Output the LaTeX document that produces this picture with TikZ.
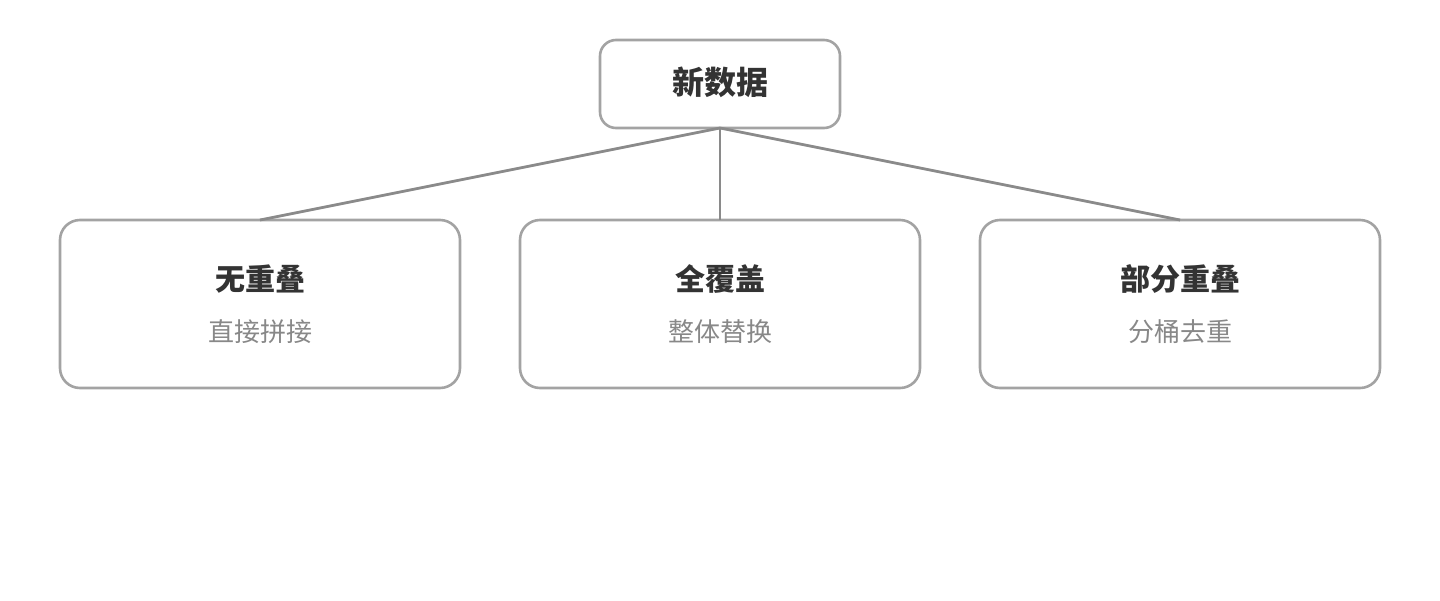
\documentclass[tikz,border=0pt]{standalone}
\usepackage{fontspec}
\newfontfamily\cjk{Noto Sans CJK SC}
\definecolor{boxc}{HTML}{A3A3A3}
\definecolor{linec}{HTML}{8A8A8A}
\definecolor{titc}{HTML}{333333}
\definecolor{subc}{HTML}{888888}
\tikzset{
  px/.style={x=1pt,y=-1pt},
  rootbox/.style={draw=boxc, line width=2.6pt, rounded corners=16pt, fill=white,
    minimum width=240pt, minimum height=88pt, inner sep=0pt, outer sep=0pt},
  leafbox/.style={draw=boxc, line width=2.6pt, rounded corners=20pt, fill=white,
    minimum width=400pt, minimum height=168pt, inner sep=0pt, outer sep=0pt},
  conn/.style={draw=linec, line width=2.8pt},
  tit/.style={font=\cjk\bfseries\fontsize{30}{34}\selectfont, text=titc, inner sep=0pt},
  sub/.style={font=\cjk\fontsize{26}{30}\selectfont, text=subc, inner sep=0pt},
}
\begin{document}
\begin{tikzpicture}[px]
\useasboundingbox (0,0) rectangle (1440,600);
\node[rootbox] (root) at (720,84) {};
\node[leafbox] (b1) at (260,304) {};
\node[leafbox] (b2) at (720,304) {};
\node[leafbox] (b3) at (1180,304) {};
\draw[conn] (root.south) -- (b1.north);
\draw[conn] (root.south) -- (b2.north);
\draw[conn] (root.south) -- (b3.north);
\node[tit, font=\cjk\bfseries\fontsize{32}{36}\selectfont] (rt) at (720,82) {新数据};
\node[tit] (t1) at (260,279) {无重叠};
\node[sub] (s1) at (260,332) {直接拼接};
\node[tit] (t2) at (720,279) {全覆盖};
\node[sub] (s2) at (720,332) {整体替换};
\node[tit] (t3) at (1180,279) {部分重叠};
\node[sub] (s3) at (1180,332) {分桶去重};
\end{tikzpicture}
\end{document}
